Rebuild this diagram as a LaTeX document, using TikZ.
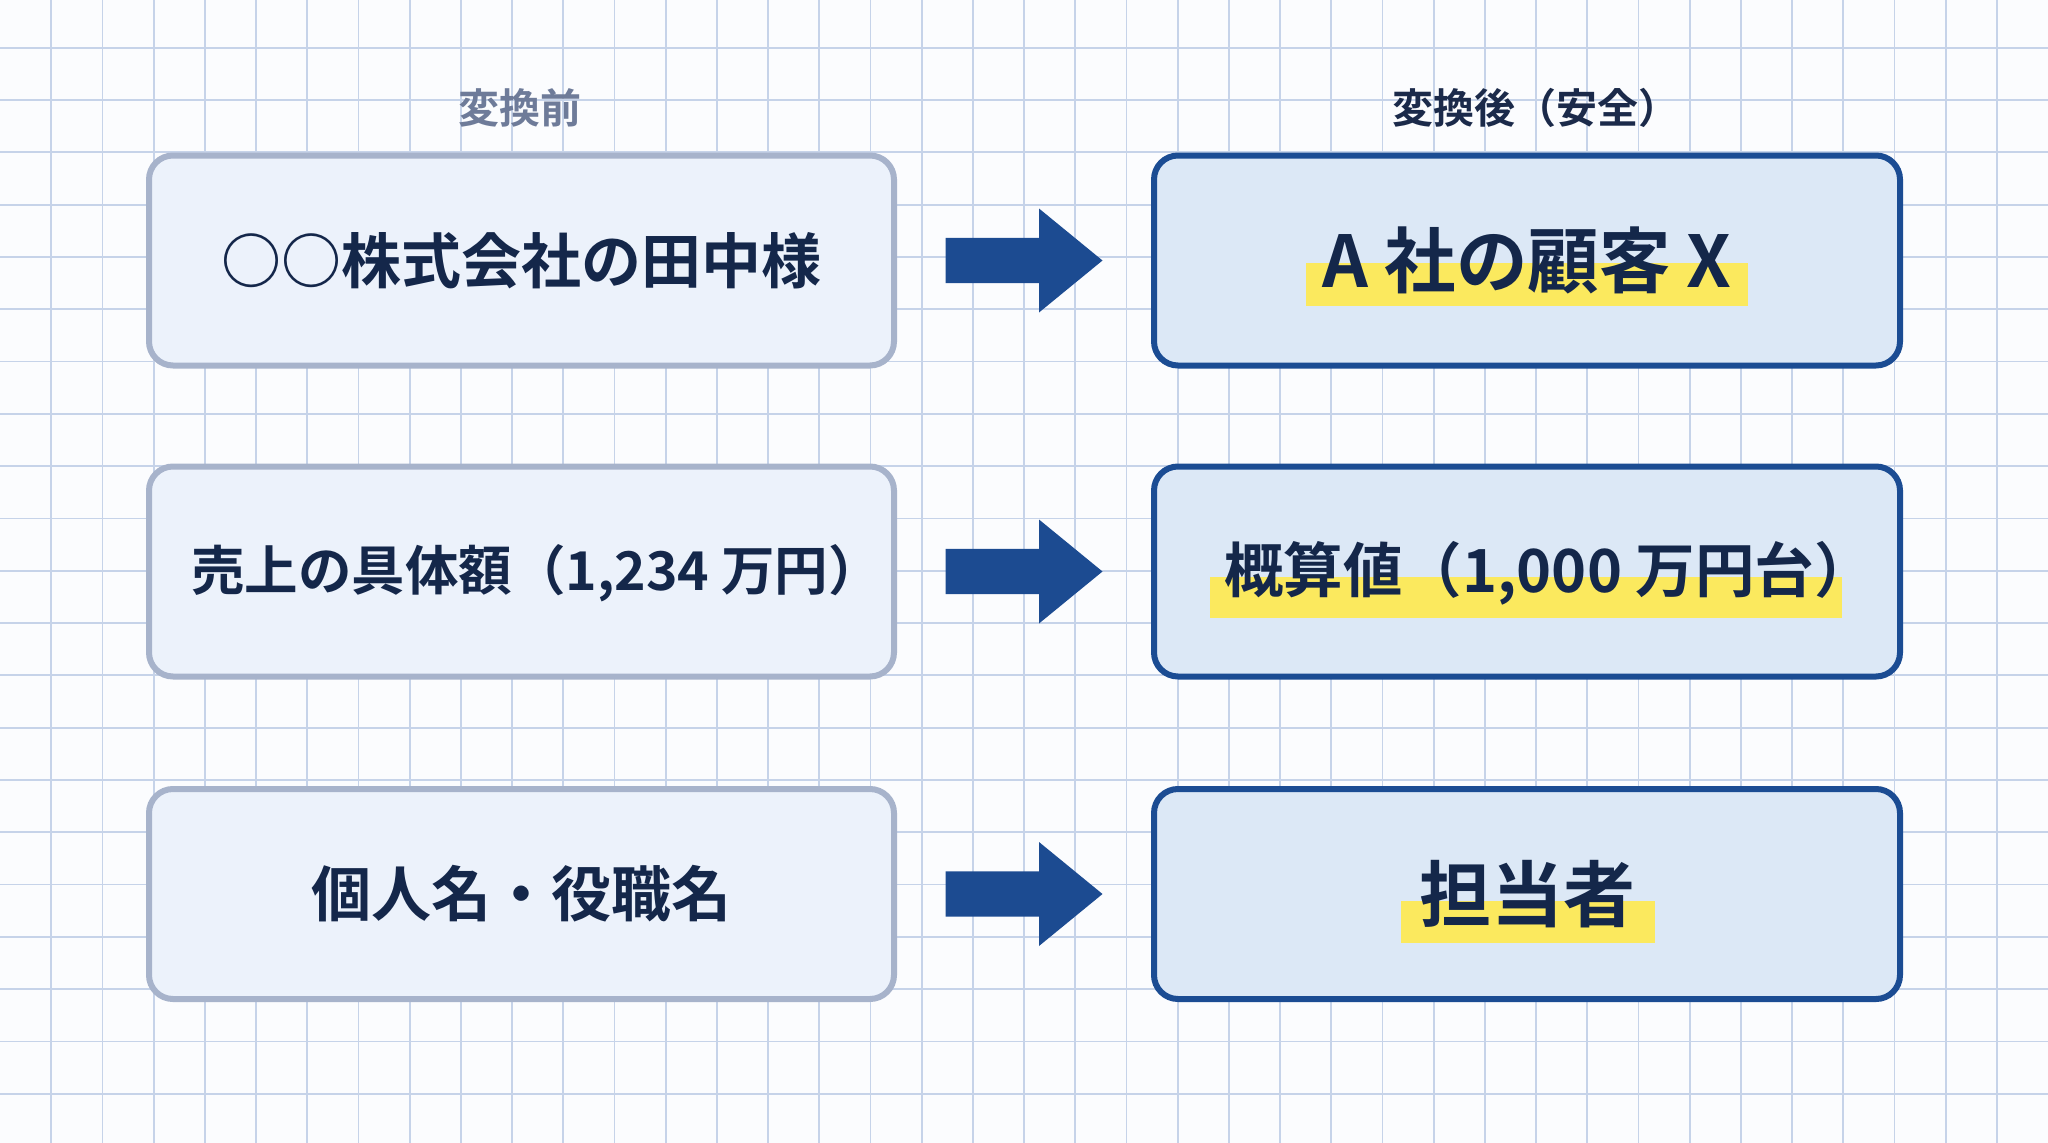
\documentclass[tikz,border=0pt]{standalone}
\usepackage{fontspec}
\newfontfamily\jp{Noto Sans CJK JP}[BoldFont={Noto Sans CJK JP Bold}]
\usetikzlibrary{calc}
\definecolor{bgc}{HTML}{FBFCFE}
\definecolor{gridc}{HTML}{C6D3E9}
\definecolor{lborder}{HTML}{A7B3CB}
\definecolor{lfill}{HTML}{ECF2FB}
\definecolor{rborder}{HTML}{1B4C93}
\definecolor{rfill}{HTML}{DCE8F6}
\definecolor{txt}{HTML}{14274A}
\definecolor{hdrgray}{HTML}{6E7B99}
\definecolor{hdrdark}{HTML}{1B2A4A}
\definecolor{arrowc}{HTML}{1C4B91}
\definecolor{hlc}{HTML}{FBE95E}
\pgfdeclarelayer{boxes}
\pgfdeclarelayer{hl}
\pgfsetlayers{boxes,hl,main}
\tikzset{
  gridline/.style={draw=gridc, line width=1.8pt},
  lbox/.style={draw=lborder, fill=lfill, line width=6pt, rounded corners=24pt,
    minimum width=745pt, minimum height=210pt, inner sep=0pt},
  rbox/.style={draw=rborder, fill=rfill, line width=6pt, rounded corners=24pt,
    minimum width=746pt, minimum height=210pt, inner sep=0pt},
  boxtext/.style={text=txt, inner sep=0pt, font=\jp\bfseries\fontsize{#1}{#1}\selectfont},
  header/.style={inner sep=0pt, font=\jp\bfseries\fontsize{41}{41}\selectfont},
  blockarrow/.style={fill=arrowc},
  highlight/.style={fill=hlc}
}
\begin{document}
\begin{tikzpicture}[x=1pt,y=-1pt]
\useasboundingbox (0,0) rectangle (2048,1143);
\begin{pgfonlayer}{boxes}
\fill[bgc] (0,0) rectangle (2048,1143);
\foreach \i in {1,...,39} \draw[gridline] (\i*51.2,0) -- (\i*51.2,1143);
\foreach \j in {0,...,20} \draw[gridline] (0,47.7+\j*52.3) -- (2048,47.7+\j*52.3);
\node[lbox] (l1) at (521.5,260.5) {};
\node[lbox] (l2) at (521.5,571.5) {};
\node[lbox] (l3) at (521.5,894) {};
\node[rbox] (r1) at (1527,260.5) {};
\node[rbox] (r2) at (1527,571.5) {};
\node[rbox] (r3) at (1527,894) {};
\end{pgfonlayer}

\node[header, text=hdrgray] (h1) at (520,108) {変換前};
\node[header, text=hdrdark] (h2) at (1536,108) {変換後（安全）};

\node[boxtext=60] (lt1) at (l1.center) {○○株式会社の田中様};
\node[boxtext=53.5] (lt2) at ($(l2.center)+(15,2)$) {売上の具体額（1,234 万円）};
\node[boxtext=60] (lt3) at (l3.center) {個人名・役職名};

\node[boxtext=71.5] (rt1) at (r1.center) {A 社の顧客 X};
\node[boxtext=59.5] (rt2) at ($(r2.center)+(22,2)$) {概算値（1,000 万円台）};
\node[boxtext=72] (rt3) at (r3.center) {担当者};

\begin{pgfonlayer}{hl}
\fill[highlight] ($(rt1.west |- r1.center)+(-16,2)$) rectangle ($(rt1.east |- r1.center)+(16,45)$);
\fill[highlight] ($(rt2.west |- r2.center)+(-14,5)$) rectangle ($(rt2.east |- r2.center)+(-32,46)$);
\fill[highlight] ($(rt3.west |- r3.center)+(-18,7)$) rectangle ($(rt3.east |- r3.center)+(20,49)$);
\end{pgfonlayer}

\foreach \k in {1,2,3}{
  \coordinate (m\k) at ($(l\k.east)!0.5!(r\k.west)$);
  \fill[blockarrow] ($(m\k)+(-78.5,-22.7)$) -- ($(m\k)+(15,-22.7)$) -- ($(m\k)+(15,-52)$)
    -- ($(m\k)+(78.5,0)$) -- ($(m\k)+(15,52)$) -- ($(m\k)+(15,22.7)$)
    -- ($(m\k)+(-78.5,22.7)$) -- cycle;
}
\end{tikzpicture}
\end{document}
